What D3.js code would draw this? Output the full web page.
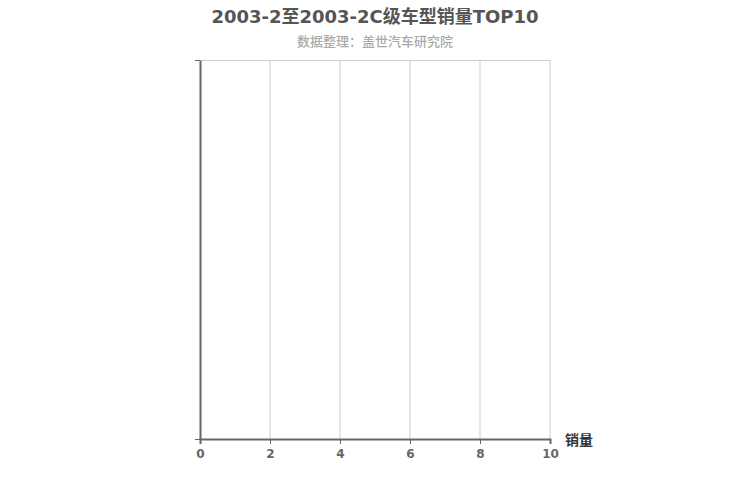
<!DOCTYPE html>
<html lang="zh">
<head>
<meta charset="UTF-8">
<title>C级车型销量TOP10</title>
<script src="https://d3js.org/d3.v7.min.js"></script>
<style>
    body { margin: 0; background: #fff; font-family: "DejaVu Sans", "Noto Sans CJK SC", sans-serif; }
    .axis text { font-size: 12px; font-weight: bold; fill: #666; font-family: "DejaVu Sans", "Noto Sans CJK SC", sans-serif; }
    .axis path, .axis line { stroke: #666; }
</style>
</head>
<body>
<div id="chart"></div>
<script>
// Data (the period had no recorded sales, so the chart is empty)
const titleText = "2003-2至2003-2C级车型销量TOP10";
const subtitleText = "数据整理：盖世汽车研究院";
const categories = [];
const sales = [];
const xTicks = [0, 2, 4, 6, 8, 10];
const xMax = 10;

const width = 750, height = 500;
const margin = { top: 60, right: 200, bottom: 61, left: 200 };
const innerW = width - margin.left - margin.right;
const innerH = height - margin.top - margin.bottom;

const svg = d3.select("#chart").append("svg")
    .attr("width", width)
    .attr("height", height);

svg.append("text")
    .attr("x", width / 2).attr("y", 23)
    .attr("text-anchor", "middle")
    .style("font-family", "'DejaVu Sans', 'Noto Sans CJK SC', sans-serif")
    .style("font-size", "18px").style("font-weight", "bold").style("fill", "#555")
    .text(titleText);

svg.append("text")
    .attr("x", width / 2).attr("y", 46)
    .attr("text-anchor", "middle")
    .style("font-family", "'Noto Sans CJK SC', sans-serif")
    .style("font-size", "13px").style("font-weight", "500").style("fill", "#aaa")
    .text(subtitleText);

const g = svg.append("g").attr("transform", `translate(${margin.left},${margin.top})`);

const x = d3.scaleLinear().domain([0, xMax]).range([0, innerW]);
const y = d3.scaleBand().domain(categories).range([innerH, 0]).padding(0.3);

// grid lines
g.append("g").selectAll("line")
    .data(xTicks.slice(1))
    .enter().append("line")
    .attr("x1", d => x(d)).attr("x2", d => x(d))
    .attr("y1", 0).attr("y2", innerH)
    .style("stroke", "#ccc").style("stroke-width", 1);

g.append("line")
    .attr("x1", 0).attr("x2", innerW)
    .attr("y1", 0.5).attr("y2", 0.5)
    .style("stroke", "#ccc").style("stroke-width", 1);

// bars (none for this period)
g.selectAll(".bar")
    .data(sales)
    .enter().append("rect")
    .attr("class", "bar")
    .attr("x", 0)
    .attr("y", (d, i) => y(categories[i]))
    .attr("width", d => x(d))
    .attr("height", y.bandwidth())
    .style("fill", "#c23531");

// x axis
const xAxis = g.append("g")
    .attr("class", "axis")
    .attr("transform", `translate(0,${innerH})`)
    .call(d3.axisBottom(x).tickValues(xTicks).tickSize(5).tickPadding(5));
xAxis.select(".domain").style("stroke-width", 2);

// y axis: boundary ticks only, since there are no categories
const yEdge = d3.scaleLinear().domain([0, 1]).range([innerH, 0]);
const yAxis = g.append("g")
    .attr("class", "axis")
    .call(d3.axisLeft(yEdge).tickValues([0, 1]).tickSize(5).tickSizeOuter(0).tickFormat(""));
yAxis.select(".domain").style("stroke-width", 2);

svg.append("text")
    .attr("x", margin.left + innerW + 15).attr("y", margin.top + innerH + 6)
    .style("font-family", "'Noto Sans CJK SC', sans-serif")
    .style("font-size", "14px").style("font-weight", "bold").style("fill", "#333")
    .text("销量");
</script>
</body>
</html>
